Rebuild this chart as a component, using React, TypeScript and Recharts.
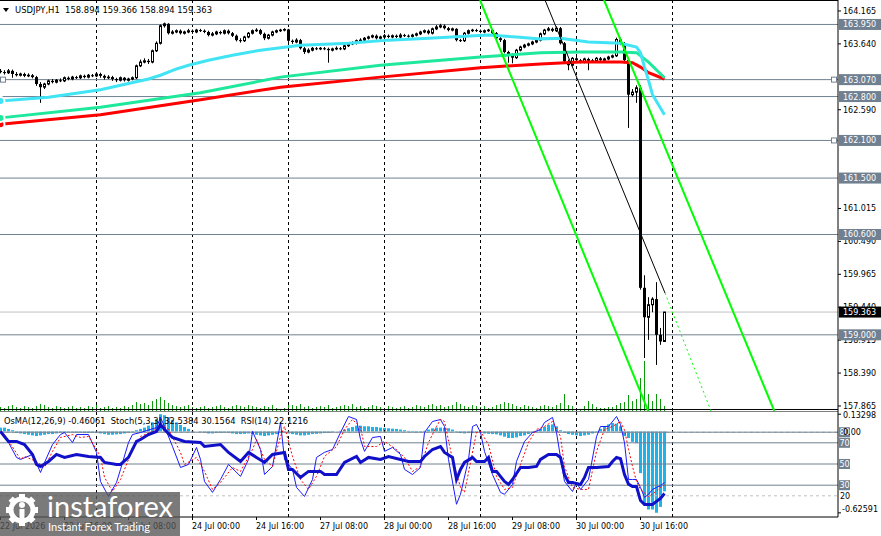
import React from 'react';
import { ComposedChart, Bar, Line, XAxis, YAxis, ReferenceLine } from 'recharts';

const FONT = '"DejaVu Sans", Verdana, sans-serif';
const SLATE = '#708090';
const X_MIN = -0.125;
const X_MAX = 209.375;
const P_TOP = 164.34;
const P_BOT = 157.785;
const OSMA_MIN = -0.6577;
const OSMA_MAX = 0.1577;

// ---------- price candles (H1) ----------
const firstOpen = 163.21;
const closes = [
  163.19, 163.18, 163.21, 163.16, 163.14, 163.16, 163.13, 163.14, 163.11, 163.0,
  162.95, 163.0, 163.05, 163.03, 163.06, 163.05, 163.1, 163.08, 163.11, 163.1,
  163.13, 163.11, 163.14, 163.13, 163.16, 163.13, 163.1, 163.11, 163.08, 163.06,
  163.1, 163.06, 163.08, 163.1, 163.29, 163.35, 163.37, 163.35, 163.53, 163.65,
  163.93, 163.96, 163.81, 163.83, 163.85, 163.81, 163.83, 163.85, 163.83, 163.86,
  163.85, 163.83, 163.78, 163.8, 163.83, 163.81, 163.85, 163.81, 163.77, 163.7,
  163.69, 163.75, 163.81, 163.85, 163.86, 163.8, 163.73, 163.78, 163.83, 163.85,
  163.86, 163.87, 163.69, 163.67, 163.7, 163.57, 163.51, 163.54, 163.57, 163.56,
  163.57, 163.56, 163.54, 163.56, 163.57, 163.56, 163.61, 163.64, 163.65, 163.69,
  163.7, 163.73, 163.75, 163.77, 163.73, 163.75, 163.77, 163.75, 163.77, 163.75,
  163.78, 163.77, 163.76, 163.78, 163.8, 163.83, 163.85, 163.81, 163.88, 163.91,
  163.93, 163.89, 163.86, 163.88, 163.7, 163.69, 163.81, 163.85, 163.86, 163.85,
  163.83, 163.85, 163.86, 163.81, 163.73, 163.7, 163.51, 163.46, 163.42, 163.54,
  163.59, 163.62, 163.64, 163.67, 163.7, 163.8, 163.86, 163.88, 163.85, 163.89,
  163.65, 163.36, 163.3, 163.41, 163.38, 163.35, 163.4, 163.37, 163.37, 163.41,
  163.38, 163.4, 163.43, 163.45, 163.71, 163.65, 163.38, 162.83, 162.87, 162.94,
  159.75, 159.28, 159.48, 159.57, 159.0, 158.894, 159.363,
];
const highs = [
  163.24, 163.22, 163.24, 163.23, 163.19, 163.18, 163.18, 163.17, 163.16, 163.13,
  163.03, 163.02, 163.07, 163.08, 163.08, 163.09, 163.12, 163.12, 163.13, 163.13,
  163.15, 163.15, 163.16, 163.16, 163.18, 163.18, 163.15, 163.14, 163.13, 163.1,
  163.12, 163.11, 163.1, 163.12, 163.31, 163.39, 163.41, 163.4, 163.55, 163.68,
  163.95, 163.98, 163.97, 163.86, 163.87, 163.87, 163.85, 163.88, 163.87, 163.88,
  163.88, 163.87, 163.85, 163.83, 163.85, 163.85, 163.87, 163.87, 163.83, 163.79,
  163.73, 163.77, 163.83, 163.87, 163.89, 163.88, 163.82, 163.8, 163.85, 163.87,
  163.88, 163.89, 163.88, 163.71, 163.73, 163.72, 163.59, 163.57, 163.59, 163.59,
  163.59, 163.59, 163.58, 163.58, 163.6, 163.59, 163.63, 163.66, 163.68, 163.71,
  163.73, 163.75, 163.77, 163.79, 163.79, 163.77, 163.8, 163.79, 163.79, 163.79,
  163.81, 163.8, 163.79, 163.8, 163.82, 163.85, 163.87, 163.87, 163.9, 163.94,
  163.96, 163.95, 163.91, 163.9, 163.89, 163.72, 163.83, 163.87, 163.88, 163.88,
  163.87, 163.87, 163.88, 163.87, 163.83, 163.75, 163.72, 163.53, 163.49, 163.56,
  163.61, 163.64, 163.66, 163.69, 163.72, 163.82, 163.88, 163.91, 163.9, 163.92,
  163.91, 163.67, 163.39, 163.43, 163.43, 163.4, 163.42, 163.42, 163.4, 163.43,
  163.43, 163.42, 163.45, 163.47, 163.74, 163.74, 163.67, 163.4, 162.92, 162.98,
  162.98, 159.95, 159.6, 159.6, 159.84, 159.11, 159.366,
];
const lows = [
  163.17, 163.15, 163.16, 163.1, 163.12, 163.12, 163.11, 163.11, 163.09, 162.97,
  162.7, 162.92, 162.98, 163.01, 163.01, 163.03, 163.03, 163.06, 163.06, 163.08,
  163.08, 163.09, 163.09, 163.11, 163.11, 163.1, 163.07, 163.08, 163.05, 163.03,
  163.04, 163.04, 163.04, 163.06, 163.08, 163.27, 163.33, 163.32, 163.33, 163.51,
  163.63, 163.9, 163.79, 163.79, 163.81, 163.79, 163.79, 163.81, 163.8, 163.81,
  163.83, 163.81, 163.76, 163.76, 163.78, 163.79, 163.79, 163.79, 163.75, 163.68,
  163.66, 163.67, 163.73, 163.79, 163.83, 163.78, 163.7, 163.71, 163.76, 163.81,
  163.83, 163.84, 163.67, 163.64, 163.65, 163.55, 163.48, 163.49, 163.52, 163.54,
  163.54, 163.54, 163.34, 163.52, 163.54, 163.54, 163.54, 163.59, 163.62, 163.63,
  163.67, 163.68, 163.71, 163.73, 163.71, 163.71, 163.73, 163.73, 163.73, 163.73,
  163.73, 163.75, 163.74, 163.74, 163.76, 163.78, 163.81, 163.79, 163.79, 163.86,
  163.89, 163.87, 163.84, 163.84, 163.68, 163.67, 163.67, 163.79, 163.83, 163.83,
  163.81, 163.81, 163.83, 163.79, 163.71, 163.67, 163.49, 163.34, 163.33, 163.4,
  163.52, 163.57, 163.6, 163.62, 163.65, 163.68, 163.78, 163.84, 163.83, 163.83,
  163.63, 163.34, 163.22, 163.28, 163.35, 163.33, 163.33, 163.22, 163.35, 163.35,
  163.36, 163.36, 163.38, 163.41, 163.43, 163.62, 163.33, 162.3, 162.8, 162.7,
  159.72, 158.63, 158.92, 159.36, 158.52, 158.84, 158.894,
];
const volumes = [
  4, 3, 5, 6, 4, 3, 5, 4, 3, 5,
  7, 6, 4, 3, 5, 4, 3, 4, 5, 3,
  4, 3, 5, 4, 6, 3, 4, 5, 3, 4,
  3, 5, 4, 6, 9, 7, 8, 6, 10, 12,
  14, 11, 8, 6, 5, 4, 5, 6, 4, 3,
  4, 5, 3, 4, 5, 6, 4, 3, 5, 6,
  5, 4, 6, 5, 4, 3, 5, 4, 6, 3,
  2, 3, 8, 6, 5, 7, 4, 5, 3, 4,
  5, 4, 6, 3, 4, 5, 6, 5, 7, 4,
  5, 3, 4, 6, 5, 4, 3, 5, 4, 3,
  4, 5, 3, 4, 6, 5, 4, 6, 7, 5,
  6, 4, 5, 6, 9, 7, 5, 4, 6, 5,
  4, 5, 3, 4, 6, 7, 9, 8, 7, 5,
  4, 6, 5, 4, 3, 5, 6, 5, 4, 6,
  8, 17, 6, 5, 2, 1, 5, 10, 7, 4,
  3, 3, 4, 4, 6, 8, 9, 16, 10, 12,
  33, 50, 17, 10, 17, 12, 5,
];

// ---------- moving averages [bar, price] ----------
const cyanMA = [
  [0, 162.73], [12, 162.79], [25, 162.91], [37, 163.08], [40, 163.14], [44, 163.24],
  [47, 163.3], [52, 163.38], [58, 163.46], [65, 163.54], [75, 163.62], [87, 163.65],
  [97, 163.7], [107, 163.73], [122, 163.78], [129, 163.75], [135, 163.72], [140, 163.73],
  [147, 163.67], [155, 163.65], [159, 163.59], [160, 163.5], [161, 163.27], [162, 163.06],
  [163, 162.83], [166, 162.51],
];
const greenMA = [
  [0, 162.46], [25, 162.63], [50, 162.86], [70, 163.11], [95, 163.3], [120, 163.43],
  [135, 163.5], [145, 163.51], [155, 163.51], [159, 163.5], [162, 163.35], [166, 163.1],
];
const redMA = [
  [0, 162.36], [25, 162.51], [50, 162.75], [70, 162.95], [95, 163.11], [120, 163.26],
  [135, 163.32], [145, 163.35], [155, 163.35], [158, 163.34], [160, 163.27], [162, 163.18],
  [166, 163.08],
];

// ---------- oscillators ----------
const osma = [
  0.03, 0.03, 0.02, 0.01,
  -0.01, -0.015, -0.02, -0.025, -0.03, -0.035, -0.03,
  -0.025, -0.02, -0.02, -0.015, -0.012, -0.01, -0.01, -0.008, -0.008, -0.01, -0.012, -0.01, -0.01, -0.012, -0.015,
  -0.02, -0.025, -0.025, -0.022, -0.02, -0.015, -0.01, -0.005,
  0.01, 0.02, 0.03, 0.045,
  0.07, 0.095, 0.133, 0.125,
  0.11, 0.09, 0.07, 0.05, 0.035, 0.02,
  0.005, 0, -0.005, -0.01, -0.015, -0.015, -0.012, -0.01, -0.008, -0.01, -0.015, -0.02, -0.02, -0.018, -0.015,
  -0.02, -0.025, -0.03, -0.035, -0.03, -0.025, -0.02, -0.01,
  -0.005, -0.015, -0.02, -0.025, -0.03, -0.03, -0.025, -0.02, -0.018, -0.015, -0.012, -0.01, -0.005, 0, 0.005,
  0.015, 0.025, 0.035, 0.045, 0.045, 0.04, 0.04, 0.035, 0.035, 0.03,
  0.028, 0.025, 0.022, 0.02, 0.015, 0.01, 0.005,
  -0.005, -0.008, -0.005, 0.005,
  0.015, 0.025, 0.03, 0.03, 0.028, 0.025, 0.015,
  -0.005, -0.012, -0.015, -0.012, -0.01,
  -0.01, -0.012, -0.015, -0.018, -0.02, -0.022, -0.03,
  -0.04, -0.05, -0.05, -0.045, -0.035,
  -0.03, -0.02, -0.01, 0.005,
  0.02, 0.035, 0.05, 0.055, 0.04,
  0.01, -0.01, -0.02, -0.025,
  -0.03, -0.035, -0.03, -0.025, -0.015, -0.005,
  0.02, 0.04, 0.055, 0.065, 0.06, 0.04,
  -0.035, -0.05, -0.08, -0.09,
  -0.32, -0.55, -0.6, -0.6, -0.625, -0.58, -0.46,
];
const stochMain = [
  [0, 79.7], [2, 70.3], [4, 56.2], [5, 54.3], [8, 59.0], [10, 42.0], [11, 51.4], [13, 68.4], [15, 77.8],
  [16, 79.7], [18, 70.3], [19, 77.8], [22, 77.8], [24, 60.9], [25, 33.5], [27, 19.4], [29, 32.6], [30, 44.9],
  [32, 70.3], [33, 77.8], [35, 79.7], [39, 84.4], [40, 93.9], [41, 85.4], [43, 66.5], [45, 46.7], [47, 49.6],
  [49, 65.6], [50, 54.3], [51, 33.5], [53, 23.2], [55, 35.4], [57, 49.6], [60, 38.3], [62, 54.3], [63, 80.7],
  [65, 63.7], [66, 40.1], [68, 47.7], [69, 68.4], [70, 89.2], [71, 54.3], [73, 44.9], [74, 27.9], [76, 19.4],
  [78, 35.4], [79, 56.2], [81, 61.0], [83, 63.7], [85, 79.7], [87, 94.8], [89, 92.0], [90, 73.1], [91, 61.9],
  [93, 75.0], [95, 76.0], [96, 61.9], [98, 65.6], [100, 59.0], [101, 44.9], [103, 40.1], [105, 46.7], [106, 79.7],
  [108, 90.1], [110, 92.0], [111, 85.4], [112, 54.3], [114, 12.0], [115, 21.5], [117, 54.3], [118, 85.4],
  [119, 87.3], [120, 79.7], [121, 61.9], [123, 40.1], [125, 23.2], [126, 21.4], [128, 30.7], [129, 52.4],
  [131, 71.3], [133, 79.7], [135, 82.5], [136, 89.2], [138, 93.9], [139, 79.7], [140, 56.2], [141, 33.5],
  [143, 24.1], [144, 32.6], [145, 26.0], [147, 35.4], [149, 75.7], [150, 85.4], [152, 85.4], [154, 94.8],
  [155, 87.3], [156, 70.0], [157, 35.4], [158, 35.4], [159, 35.4], [160, 27.9], [161, 18.5], [162, 21.4],
  [163, 26.0], [164, 27.9], [165, 29.5], [166, 32.54],
];
const stochSignal = [
  [0, 80.7], [1, 77.8], [5, 54.3], [6, 57.1], [9, 52.4], [11, 46.7], [13, 61.9], [15, 75.0], [18, 77.8],
  [20, 75.0], [22, 76.0], [25, 57.1], [26, 37.3], [28, 24.1], [30, 35.4], [33, 63.7], [35, 76.0], [38, 80.7],
  [40, 87.3], [42, 82.6], [45, 60.9], [46, 49.6], [49, 56.2], [51, 43.0], [53, 26.0], [55, 32.6], [58, 46.7],
  [60, 43.0], [63, 63.7], [64, 73.1], [66, 54.3], [68, 47.7], [70, 76.0], [71, 85.4], [73, 57.1], [75, 35.4],
  [77, 26.0], [79, 38.3], [81, 57.1], [84, 66.5], [86, 82.6], [88, 92.0], [90, 84.4], [91, 66.5], [94, 66.5],
  [96, 71.3], [99, 63.7], [101, 56.2], [103, 43.0], [105, 47.7], [107, 70.3], [109, 85.4], [110, 92.0],
  [111, 90.1], [113, 54.3], [115, 27.9], [116, 23.2], [117, 42.0], [119, 79.7], [120, 80.7], [122, 68.4],
  [124, 38.3], [126, 26.0], [128, 27.9], [130, 49.6], [132, 70.3], [134, 82.6], [136, 85.4], [138, 90.1],
  [140, 76.0], [141, 47.7], [143, 27.9], [145, 26.0], [147, 26.0], [149, 61.9], [151, 82.6], [153, 85.4],
  [155, 90.1], [156, 82.0], [157, 64.0], [158, 47.7], [159, 33.5], [160, 26.0], [162, 19.4], [163, 21.4],
  [165, 27.9], [166, 30.16],
];
const rsi = [
  [0, 80.7], [1, 76.0], [2, 71.3], [4, 71.3], [6, 68.4], [7, 63.7], [8, 59.0], [9, 49.6], [10, 47.7],
  [12, 52.4], [14, 59.0], [16, 56.2], [19, 59.0], [22, 57.1], [25, 56.2], [26, 51.5], [29, 49.6], [30, 49.6],
  [32, 56.2], [34, 71.3], [35, 73.1], [37, 77.8], [39, 80.7], [40, 87.3], [41, 82.6], [43, 75.0], [46, 71.3],
  [50, 70.3], [51, 66.5], [55, 68.4], [57, 60.9], [60, 52.4], [62, 60.9], [64, 56.2], [66, 51.5], [68, 59.0],
  [71, 60.9], [72, 44.9], [73, 44.9], [75, 37.3], [77, 43.0], [80, 43.0], [81, 40.1], [84, 40.1], [86, 51.5],
  [89, 57.1], [90, 51.5], [92, 56.2], [95, 54.3], [97, 57.1], [100, 54.3], [102, 52.4], [105, 52.4],
  [106, 57.1], [108, 63.7], [110, 66.5], [111, 60.9], [113, 56.2], [114, 35.4], [115, 44.9], [116, 51.5],
  [118, 56.2], [119, 52.4], [121, 52.4], [122, 56.2], [123, 43.0], [124, 43.0], [126, 33.5], [127, 30.7],
  [128, 35.4], [130, 46.7], [132, 46.7], [134, 47.7], [135, 54.3], [137, 59.0], [139, 59.0], [140, 56.2],
  [141, 40.1], [142, 32.6], [143, 32.6], [145, 30.7], [146, 37.3], [147, 46.7], [149, 46.7], [152, 47.7],
  [153, 52.4], [154, 56.2], [155, 55.0], [156, 40.0], [157, 31.0], [158, 28.8], [159, 28.8], [160, 15.5],
  [161, 11.9], [163, 11.9], [164, 14.7], [165, 17.5], [166, 22.12],
];

// ---------- axes / levels ----------
// ticks that sit completely under a level tag (163.115, 162.065, 161.540) are not shown
const priceTicks = [164.165, 163.64, 162.59, 161.015, 160.49, 159.965, 159.44, 158.915, 158.39, 157.865];
const levelPrices = [163.95, 163.07, 162.8, 162.1, 161.5, 160.6, 159.0];
const levelTexts = ['163.950', '163.070', '162.800', '162.100', '161.500', '160.600', '159.000'];
const lastPrice = 159.363;
const dayBars = [24, 48, 72, 96, 120, 144, 168];
const timeTickBars = [0, 16, 32, 48, 64, 80, 96, 112, 128, 144, 160];
const timeTickLabels = ['22 Jul 2026', '22 Jul 16:00', '23 Jul 08:00', '24 Jul 00:00', '24 Jul 16:00', '27 Jul 08:00', '28 Jul 00:00', '28 Jul 16:00', '29 Jul 08:00', '30 Jul 00:00', '30 Jul 16:00'];
const oscLevels = [80, 70, 50, 30];
const osmaTicks = [0.13298, -0.62591];

const channelA = [[119.875, 164.34], [161.93, 157.785]];
const channelB = [[150.875, 164.34], [193.45, 157.785]];
const channelMid = [[136.125, 164.34], [166.125, 159.667]];
const channelMidExt = [[166.125, 159.667], [177.625, 157.785]];

// ---------- tables ----------
const mapOf = (pairs: number[][]) => {
  const m = new Map<number, number>();
  pairs.forEach(([k, v]) => m.set(k, v));
  return m;
};
const cyanM = mapOf(cyanMA);
const greenM = mapOf(greenMA);
const redM = mapOf(redMA);
const stM = mapOf(stochMain);
const sgM = mapOf(stochSignal);
const rsM = mapOf(rsi);

const mainData = closes.map((c, i) => ({
  i,
  o: i === 0 ? firstOpen : closes[i - 1],
  c,
  h: highs[i],
  l: lows[i],
  range: [lows[i], highs[i]],
  vol: volumes[i],
  cyan: cyanM.get(i),
  green: greenM.get(i),
  red: redM.get(i),
}));

const indData = osma.map((v, i) => ({
  i,
  osma: v,
  st: stM.get(i),
  sig: sgM.get(i),
  rsi: rsM.get(i),
}));

// ---------- shapes ----------
const Candle = (p: any) => {
  if (p.x == null || p.y == null || !p.payload) return null;
  const cx = Math.floor(p.x + p.width / 2) + 0.5;
  const top = Math.min(p.y, p.y + p.height);
  const hgt = Math.abs(p.height);
  const { o, c, h, l } = p.payload;
  const k = hgt / (h - l || 1);
  const yO = top + (h - o) * k;
  const yC = top + (h - c) * k;
  const bTop = Math.min(yO, yC);
  const bBot = Math.max(yO, yC);
  const bull = c >= o;
  return (
    <g>
      <line x1={cx} x2={cx} y1={top} y2={top + hgt} stroke="#000" strokeWidth={1} />
      {bull ? (
        <rect x={cx - 1} y={bTop} width={2} height={Math.max(bBot - bTop, 0.5)} fill="#fff" stroke="#000" strokeWidth={1} />
      ) : (
        <rect x={cx - 1.5} y={bTop} width={3} height={Math.max(bBot - bTop, 1)} fill="#000" />
      )}
    </g>
  );
};

const VolShape = (p: any) => {
  if (p.x == null || !p.height) return null;
  const top = Math.min(p.y, p.y + p.height);
  return <rect x={Math.floor(p.x + p.width / 2)} y={top} width={1} height={Math.abs(p.height)} fill="#0a9a0a" />;
};

const OsmaShape = (p: any) => {
  if (p.x == null || !p.height) return null;
  const top = Math.min(p.y, p.y + p.height);
  const cx = Math.floor(p.x + p.width / 2) + 0.5;
  return <rect x={cx - 1.5} y={top} width={3} height={Math.abs(p.height)} fill="#1eb4ea" />;
};

const PriceTick = (p: any) => (
  <g>
    <line x1={p.x} x2={p.x + 3} y1={p.y} y2={p.y} stroke="#000" />
    <text x={p.x + 5} y={p.y + 3} fontSize={8} fontFamily={FONT} fill="#000">
      {Number(p.payload.value).toFixed(3)}
    </text>
  </g>
);

const OsmaTick = (p: any) => {
  const v = Number(p.payload.value);
  const dy = v > 0 ? 1 : -3.5;
  return (
    <g>
      <line x1={p.x} x2={p.x + 3} y1={p.y} y2={p.y} stroke="#000" />
      <text x={p.x + (v < 0 ? 4 : 5)} y={p.y + dy + 3} fontSize={8} fontFamily={FONT} fill="#000">
        {v.toFixed(5)}
      </text>
    </g>
  );
};

const TimeTick = (p: any) => {
  const idx = timeTickBars.indexOf(Number(p.payload.value));
  return (
    <g>
      <line x1={p.x} x2={p.x} y1={p.y} y2={p.y + 3} stroke="#000" />
      <text x={p.x - 0.5} y={p.y + 12} fontSize={8} fontFamily={FONT} fill="#000">
        {timeTickLabels[idx]}
      </text>
    </g>
  );
};

const priceBox = (text: string, bg: string, sqL = false, sqR = false) => (props: any) => {
  const vb = props.viewBox || {};
  const right = (vb.x || 0) + (vb.width || 0);
  const y = vb.y || 0;
  return (
    <g>
      {sqL && <rect x={0.5} y={y - 2.5} width={5} height={5} fill="#fff" stroke={SLATE} />}
      {sqR && <rect x={right - 6.5} y={y - 2.5} width={5} height={5} fill="#fff" stroke={SLATE} />}
      <rect x={right + 1} y={y - 5.5} width={43} height={11} fill={bg} />
      <text x={right + 5} y={y + 3} fontSize={8} fontFamily={FONT} fill="#fff">
        {text}
      </text>
    </g>
  );
};

const oscBox = (text: string, extra?: string) => (props: any) => {
  const vb = props.viewBox || {};
  const right = (vb.x || 0) + (vb.width || 0);
  const y = vb.y || 0;
  return (
    <g>
      <rect x={right + 1} y={y - 5} width={11} height={10} fill={SLATE} />
      <text x={right + 1.5} y={y + 3} fontSize={8} fontFamily={FONT} fill="#fff">
        {text}
      </text>
      {extra && (
        <text x={right + 5} y={y + 3} fontSize={8} fontFamily={FONT} fill="#000">
          {extra}
        </text>
      )}
    </g>
  );
};

const plainLabel = (text: string) => (props: any) => {
  const vb = props.viewBox || {};
  const right = (vb.x || 0) + (vb.width || 0);
  const y = vb.y || 0;
  return (
    <text x={right + 2} y={y + 3} fontSize={8} fontFamily={FONT} fill="#000">
      {text}
    </text>
  );
};

const seg = (s: number[][]) => [
  { x: s[0][0], y: s[0][1] },
  { x: s[1][0], y: s[1][1] },
];

// ---------- overlay (titles + watermark) ----------
const Overlay = () => (
  <svg width={881} height={536} style={{ position: 'absolute', left: 0, top: 0, pointerEvents: 'none' }}>
    <polygon points="3,8 9,8 6,12" fill="#000" />
    <text x={15} y={12.6} fontSize={8.5} fontFamily={FONT} fill="#000" textLength={197} lengthAdjust="spacingAndGlyphs" style={{ whiteSpace: 'pre' }}>
      {'USDJPY,H1  158.894 159.366 158.894 159.363'}
    </text>
    <text x={4} y={423.5} fontSize={8.5} fontFamily={FONT} fill="#000" textLength={304} lengthAdjust="spacingAndGlyphs" style={{ whiteSpace: 'pre' }}>
      {'OsMA(12,26,9) -0.46061  Stoch(5,3,3) 32.5384 30.1564  RSI(14) 22.1216'}
    </text>
    <g>
      <rect x={0} y={492} width={180} height={44} fill="#555" opacity={0.78} />
      <g fill="#fff">
        {[0, 45, 90, 135, 180, 225, 270, 315].map((a) => (
          <rect key={a} x={19} y={494} width={6} height={6} transform={`rotate(${a} 22 510)`} />
        ))}
        <circle cx={22} cy={510} r={11} fill="none" stroke="#fff" strokeWidth={5} />
        <circle cx={22} cy={505} r={3} />
        <rect x={19.5} y={509} width={5} height={10} />
      </g>
      <text x={47} y={517} fontSize={29} fontFamily="Lato, 'Open Sans', sans-serif" fill="#fff" textLength={126} lengthAdjust="spacingAndGlyphs">
        instaforex
      </text>
      <text x={48} y={530.5} fontSize={10.5} fontFamily="Lato, 'Open Sans', sans-serif" fill="#fff" textLength={102} lengthAdjust="spacingAndGlyphs">
        Instant Forex Trading
      </text>
    </g>
  </svg>
);

export default function App() {
  return (
    <div style={{ position: 'absolute', left: 0, top: 0, width: 881, height: 536, background: '#fff', overflow: 'hidden' }}>
      {/* back layer: grid, levels, volumes, price axis */}
      <div style={{ position: 'absolute', left: 0, top: 0 }}>
        <ComposedChart width={881} height={411} data={mainData} margin={{ top: 0, right: 0, bottom: 0, left: 0 }}>
          <XAxis type="number" dataKey="i" domain={[X_MIN, X_MAX]} allowDataOverflow hide />
          <YAxis
            yAxisId="p"
            orientation="right"
            width={43}
            type="number"
            domain={[P_BOT, P_TOP]}
            allowDataOverflow
            ticks={priceTicks}
            interval={0}
            tick={PriceTick}
            tickLine={false}
            tickSize={0}
            tickMargin={0}
            axisLine={{ stroke: '#000' }}
          />
          <YAxis yAxisId="v" hide type="number" domain={[0, 411]} allowDataOverflow />
          {dayBars.map((d) => (
            <ReferenceLine key={'d' + d} yAxisId="p" x={d} stroke="#000" strokeDasharray="3 3" />
          ))}
          <Bar yAxisId="v" dataKey="vol" barSize={1} shape={VolShape} isAnimationActive={false} />
          {levelPrices.map((lv) => (
            <ReferenceLine key={'l' + lv} yAxisId="p" y={lv} stroke={SLATE} />
          ))}
          <ReferenceLine yAxisId="p" y={lastPrice} stroke="#c0c0c0" />
          <ReferenceLine yAxisId="p" y={164.332} stroke="#000" />
          <ReferenceLine yAxisId="p" y={157.809} stroke="#000" />
        </ComposedChart>
      </div>

      {/* front layer: candles, MAs, channel, level tags */}
      <div style={{ position: 'absolute', left: 0, top: 0 }}>
        <ComposedChart width={881} height={411} data={mainData} margin={{ top: 0, right: 43, bottom: 0, left: 0 }}>
          <XAxis type="number" dataKey="i" domain={[X_MIN, X_MAX]} allowDataOverflow hide />
          <YAxis yAxisId="p" hide type="number" domain={[P_BOT, P_TOP]} allowDataOverflow />
          <Bar yAxisId="p" dataKey="range" barSize={3} shape={Candle} isAnimationActive={false} />
          <Line yAxisId="p" dataKey="red" stroke="#ff0000" strokeWidth={3} dot={false} connectNulls isAnimationActive={false} />
          <Line yAxisId="p" dataKey="green" stroke="#1de89b" strokeWidth={3} dot={false} connectNulls isAnimationActive={false} />
          <Line yAxisId="p" dataKey="cyan" stroke="#40e4f4" strokeWidth={3} dot={false} connectNulls isAnimationActive={false} />
          <ReferenceLine yAxisId="p" segment={seg(channelA)} stroke="#00ff00" strokeWidth={2} ifOverflow="visible" />
          <ReferenceLine yAxisId="p" segment={seg(channelB)} stroke="#00ff00" strokeWidth={2} ifOverflow="visible" />
          <ReferenceLine yAxisId="p" segment={seg(channelMid)} stroke="#000" strokeWidth={1} ifOverflow="visible" />
          <ReferenceLine yAxisId="p" segment={seg(channelMidExt)} stroke="#00ff00" strokeWidth={1} strokeDasharray="2 3" ifOverflow="visible" />
          {levelPrices.map((lv, k) => (
            <ReferenceLine
              key={'t' + lv}
              yAxisId="p"
              y={lv}
              stroke="none"
              strokeOpacity={0}
              label={priceBox(levelTexts[k], SLATE, lv === 163.07, lv === 163.07 || lv === 162.1)}
            />
          ))}
          <ReferenceLine yAxisId="p" y={lastPrice} stroke="none" strokeOpacity={0} label={priceBox('159.363', '#000')} />
        </ComposedChart>
      </div>

      {/* indicator window */}
      <div style={{ position: 'absolute', left: 0, top: 411 }}>
        <ComposedChart width={881} height={125} data={indData} margin={{ top: 0, right: 0, bottom: 0, left: 0 }}>
          <XAxis
            type="number"
            dataKey="i"
            domain={[X_MIN, X_MAX]}
            allowDataOverflow
            ticks={timeTickBars}
            interval={0}
            height={19}
            tick={TimeTick}
            tickLine={false}
            tickSize={0}
            tickMargin={0}
            axisLine={{ stroke: '#000' }}
          />
          <YAxis yAxisId="osc" hide type="number" domain={[0, 100]} allowDataOverflow />
          <YAxis
            yAxisId="osma"
            orientation="right"
            width={43}
            type="number"
            domain={[OSMA_MIN, OSMA_MAX]}
            allowDataOverflow
            ticks={osmaTicks}
            interval={0}
            tick={OsmaTick}
            tickLine={false}
            tickSize={0}
            tickMargin={0}
            axisLine={{ stroke: '#000' }}
          />
          {dayBars.map((d) => (
            <ReferenceLine key={'id' + d} yAxisId="osc" x={d} stroke="#000" strokeDasharray="3 3" />
          ))}
          <ReferenceLine yAxisId="osc" y={80} stroke="#c0c0c0" strokeDasharray="3 3" />
          <ReferenceLine yAxisId="osc" y={20} stroke="#c0c0c0" strokeDasharray="3 3" label={plainLabel('20')} />
          {oscLevels.map((lv) => (
            <ReferenceLine key={'o' + lv} yAxisId="osc" y={lv} stroke={SLATE} label={oscBox(String(lv), lv === 80 ? '0.00' : undefined)} />
          ))}
          <ReferenceLine yAxisId="osc" y={100} stroke="#000" />
          <Bar yAxisId="osma" dataKey="osma" barSize={3} shape={OsmaShape} isAnimationActive={false} />
          <Line yAxisId="osc" dataKey="st" stroke="#1a1aff" strokeWidth={1} dot={false} connectNulls isAnimationActive={false} />
          <Line yAxisId="osc" dataKey="sig" stroke="#ff0000" strokeWidth={1} strokeDasharray="2 2" dot={false} connectNulls isAnimationActive={false} />
          <Line yAxisId="osc" dataKey="rsi" stroke="#1010c8" strokeWidth={3} dot={false} connectNulls isAnimationActive={false} />
        </ComposedChart>
      </div>

      <Overlay />
    </div>
  );
}
